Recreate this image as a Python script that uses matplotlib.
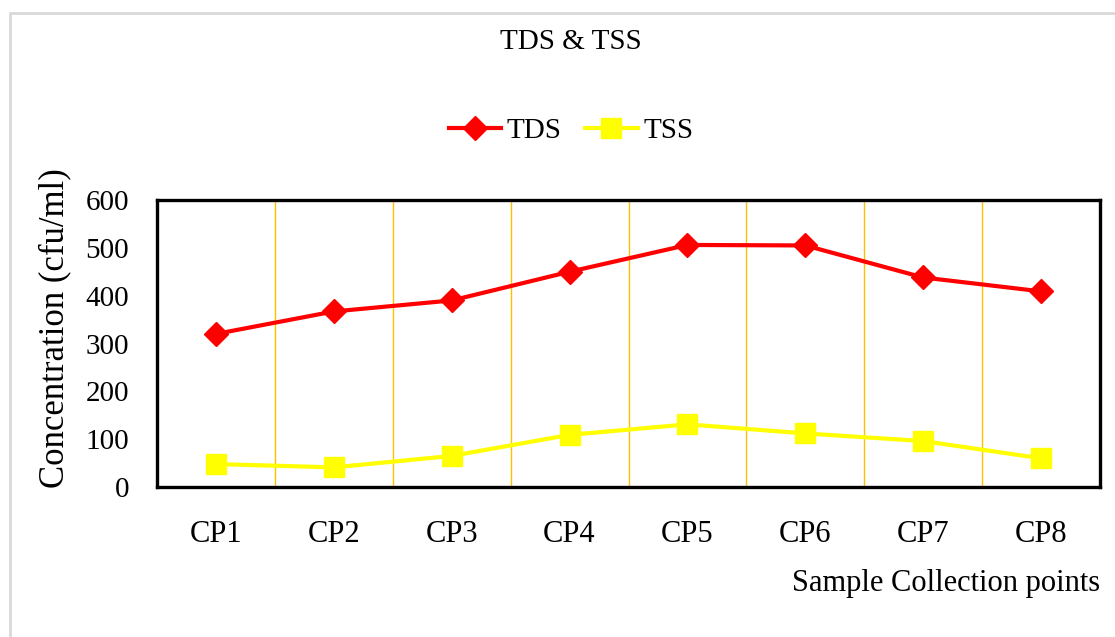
import matplotlib
matplotlib.use("Agg")
import matplotlib.pyplot as plt
from matplotlib.patches import Rectangle
from matplotlib.ticker import FixedLocator

categories = ["CP1", "CP2", "CP3", "CP4", "CP5", "CP6", "CP7", "CP8"]
tds = [320, 367, 390, 450, 506, 505, 438, 409]
tss = [48, 41, 65, 109, 131, 112, 96, 60]
yticks = [0, 100, 200, 300, 400, 500, 600]

plt.rcParams['font.family'] = ['Liberation Serif', 'DejaVu Serif']

fig = plt.figure(figsize=(11.15, 6.37), dpi=100)
fig.patches.append(Rectangle((10/1115, -0.05), 1.1, 1 - 13/637 + 0.05,
                             transform=fig.transFigure, fill=False,
                             edgecolor='#D9D9D9', linewidth=2))

ax = fig.add_axes([157/1115, 1 - 487/637, (1100-157)/1115, (487-200)/637])
x = list(range(len(categories)))
l1, = ax.plot(x, tds, color='#FF0000', lw=3, marker='D', ms=12,
              label='TDS', zorder=3)
l2, = ax.plot(x, tss, color='#FFFF00', lw=3, marker='s', ms=14,
              label='TSS', zorder=3)

ax.set_xlim(-0.5, len(categories) - 0.5)
ax.set_ylim(0, 600)
ax.set_yticks(yticks)
ax.set_xticks(x)
ax.set_xticklabels(categories)
ax.xaxis.set_minor_locator(FixedLocator([i + 0.5 for i in range(len(categories) - 1)]))
ax.grid(True, which='minor', axis='x', color='#FFC000', lw=1)
ax.tick_params(axis='both', which='both', length=0)
ax.tick_params(axis='x', labelsize=22, pad=24)
ax.tick_params(axis='y', labelsize=21, pad=20)
for s in ax.spines.values():
    s.set_linewidth(2.4)
    s.set_color('black')

fig.text(571/1115, 1 - 42/637, 'TDS & TSS', ha='center', va='center', fontsize=21)
fig.text(1100/1115, 1 - 584/637, 'Sample Collection points', ha='right',
         va='center', fontsize=22)
fig.text(55/1115, 1 - 328/637, 'Concentration (cfu/ml)', ha='center',
         va='center', rotation=90, fontsize=25)

fig.legend(handles=[l1, l2], loc='center', bbox_to_anchor=(571/1115, 1 - 131/637),
           ncol=2, frameon=False, fontsize=21, handlelength=1.8,
           handletextpad=0.2, columnspacing=0.8)

fig.savefig('out.png', dpi=100)
